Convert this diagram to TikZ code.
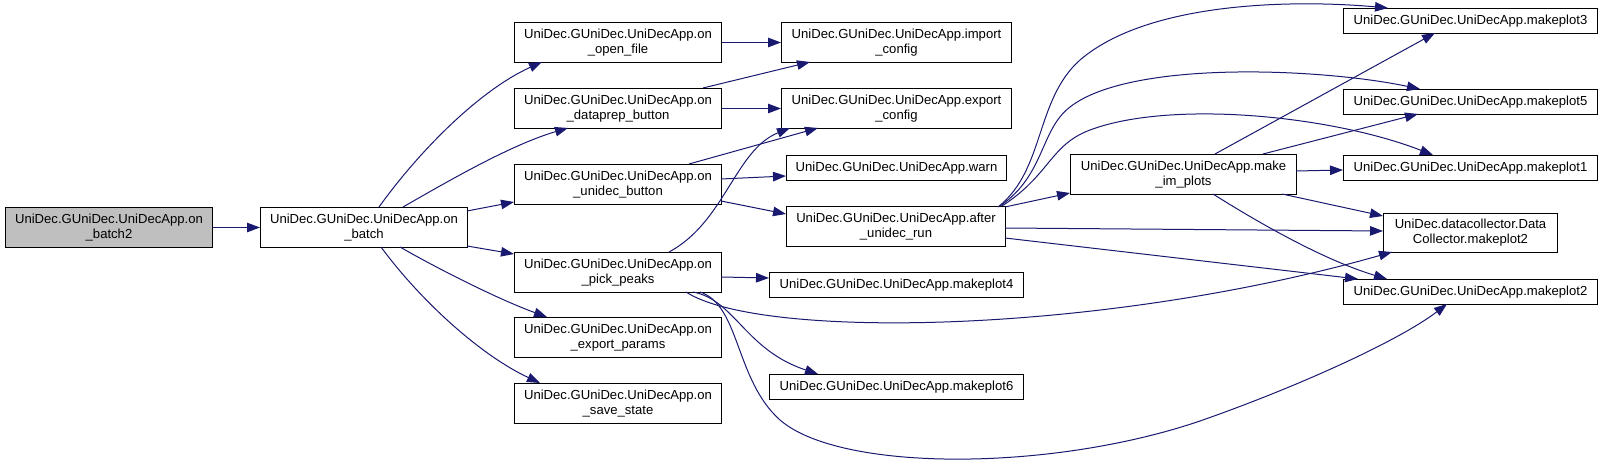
\documentclass[tikz,border=0pt]{standalone}
\usepackage{fontspec}
\setmainfont{Liberation Sans}
\usetikzlibrary{arrows.meta}
\definecolor{edgecol}{HTML}{191970}
\definecolor{hilite}{HTML}{BFBFBF}
\tikzset{
  fn/.style={draw=black, line width=1pt, fill=white, inner sep=0pt, anchor=north west,
    align=center, font=\fontsize{13.1}{15}\selectfont, text=black},
  edge/.style={draw=edgecol, line width=1pt, -{Triangle[length=13pt,width=9.5pt]}},
}
\begin{document}
\begin{tikzpicture}[x=1pt, y=-1pt]
\useasboundingbox (0,0) rectangle (1603,470);
% nodes
\node[fn, fill=hilite, minimum width=207pt, minimum height=40pt] (b2) at (5,207) {UniDec.GUniDec.UniDecApp.on\\\_batch2};
\node[fn, minimum width=207pt, minimum height=40pt] (b) at (260,207) {UniDec.GUniDec.UniDecApp.on\\\_batch};
\node[fn, minimum width=207pt, minimum height=40pt] (of) at (514,22) {UniDec.GUniDec.UniDecApp.on\\\_open\_file};
\node[fn, minimum width=207pt, minimum height=40pt] (dp) at (514,88) {UniDec.GUniDec.UniDecApp.on\\\_dataprep\_button};
\node[fn, minimum width=207pt, minimum height=40pt] (ub) at (514,164) {UniDec.GUniDec.UniDecApp.on\\\_unidec\_button};
\node[fn, minimum width=207pt, minimum height=40pt] (pp) at (514,252) {UniDec.GUniDec.UniDecApp.on\\\_pick\_peaks};
\node[fn, minimum width=207pt, minimum height=40pt] (ep) at (514,317) {UniDec.GUniDec.UniDecApp.on\\\_export\_params};
\node[fn, minimum width=207pt, minimum height=40pt] (ss) at (514,383) {UniDec.GUniDec.UniDecApp.on\\\_save\_state};
\node[fn, minimum width=230pt, minimum height=40pt] (ic) at (781,22) {UniDec.GUniDec.UniDecApp.import\\\_config};
\node[fn, minimum width=230pt, minimum height=40pt] (ec) at (781,88) {UniDec.GUniDec.UniDecApp.export\\\_config};
\node[fn, minimum width=220pt, minimum height=25pt] (wn) at (786,155) {UniDec.GUniDec.UniDecApp.warn};
\node[fn, minimum width=219pt, minimum height=40pt] (ar) at (786,206) {UniDec.GUniDec.UniDecApp.after\\\_unidec\_run};
\node[fn, minimum width=254pt, minimum height=25pt] (m4) at (769,272) {UniDec.GUniDec.UniDecApp.makeplot4};
\node[fn, minimum width=254pt, minimum height=25pt] (m6) at (769,374) {UniDec.GUniDec.UniDecApp.makeplot6};
\node[fn, minimum width=226pt, minimum height=40pt] (mi) at (1070,154) {UniDec.GUniDec.UniDecApp.make\\\_im\_plots};
\node[fn, minimum width=254pt, minimum height=25pt] (m3) at (1343,8) {UniDec.GUniDec.UniDecApp.makeplot3};
\node[fn, minimum width=254pt, minimum height=25pt] (m5) at (1343,89) {UniDec.GUniDec.UniDecApp.makeplot5};
\node[fn, minimum width=254pt, minimum height=25pt] (m1) at (1343,155) {UniDec.GUniDec.UniDecApp.makeplot1};
\node[fn, minimum width=174pt, minimum height=39pt] (dc) at (1383,213) {UniDec.datacollector.Data\\Collector.makeplot2};
\node[fn, minimum width=254pt, minimum height=25pt] (m2) at (1343,279) {UniDec.GUniDec.UniDecApp.makeplot2};
% edges
\draw[edge] (b2.east) -- (b.west);
\draw[edge] ([shift={(119,0)}]b.north west) .. controls (420,150) and (480,90) .. ([shift={(28,40)}]of.north west);
\draw[edge] ([shift={(143,0)}]b.north west) .. controls (445,183) and (510,145) .. ([shift={(54,40)}]dp.north west);
\draw[edge] ([shift={(207,4)}]b.north west) -- ([shift={(0,38)}]ub.north west);
\draw[edge] ([shift={(207,39)}]b.north west) -- ([shift={(0,2)}]pp.north west);
\draw[edge] ([shift={(140,40)}]b.north west) .. controls (440,270) and (500,300) .. ([shift={(33,0)}]ep.north west);
\draw[edge] ([shift={(121,40)}]b.north west) .. controls (420,300) and (480,355) .. ([shift={(26,0)}]ss.north west);
\draw[edge] (of.east) -- (ic.west);
\draw[edge] ([shift={(189,0)}]dp.north west) -- ([shift={(29,40)}]ic.north west);
\draw[edge] (dp.east) -- (ec.west);
\draw[edge] ([shift={(175,0)}]ub.north west) -- ([shift={(37,40)}]ec.north west);
\draw[edge] ([shift={(207,15)}]ub.north west) -- ([shift={(0,21)}]wn.north west);
\draw[edge] ([shift={(207,37)}]ub.north west) -- ([shift={(0,8)}]ar.north west);
\draw[edge] ([shift={(155,0)}]pp.north west) .. controls (725,222) and (735,150) .. ([shift={(9,40)}]ec.north west);
\draw[edge] ([shift={(207,25)}]pp.north west) -- ([shift={(0,6)}]m4.north west);
\draw[edge] ([shift={(172,40)}]pp.north west) .. controls (760,340) and (1100,335) .. ([shift={(9,39)}]dc.north west);
\draw[edge] ([shift={(179,40)}]pp.north west) .. controls (735,300) and (745,350) .. ([shift={(49,0)}]m6.north west);
\draw[edge] ([shift={(186,40)}]pp.north west) .. controls (740,305) and (735,380) .. (780,420)
  .. controls (840,472) and (1050,472) .. (1200,421)
  .. controls (1300,386) and (1400,340) .. ([shift={(104,25)}]m2.north west);
\draw[edge] ([shift={(212,1)}]ar.north west) .. controls (1045,170) and (1035,100) .. (1080,60)
  .. controls (1150,0) and (1300,0) .. ([shift={(45,0)}]m3.north west);
\draw[edge] ([shift={(214,0)}]ar.north west) .. controls (1045,175) and (1040,130) .. (1070,107)
  .. controls (1130,60) and (1320,68) .. ([shift={(77,0)}]m5.north west);
\draw[edge] ([shift={(216,0)}]ar.north west) .. controls (1050,175) and (1050,145) .. (1090,130)
  .. controls (1170,100) and (1330,115) .. ([shift={(90,0)}]m1.north west);
\draw[edge] ([shift={(219,1)}]ar.north west) -- ([shift={(0,39)}]mi.north west);
\draw[edge] ([shift={(219,22)}]ar.north west) -- ([shift={(0,18)}]dc.north west);
\draw[edge] ([shift={(219,32)}]ar.north west) -- ([shift={(15,0)}]m2.north west);
\draw[edge] ([shift={(145,0)}]mi.north west) -- ([shift={(92,25)}]m3.north west);
\draw[edge] ([shift={(193,0)}]mi.north west) -- ([shift={(75,25)}]m5.north west);
\draw[edge] ([shift={(226,17)}]mi.north west) -- ([shift={(0,15)}]m1.north west);
\draw[edge] ([shift={(212,40)}]mi.north west) -- ([shift={(0,3)}]dc.north west);
\draw[edge] ([shift={(143,40)}]mi.north west) .. controls (1270,230) and (1330,262) .. ([shift={(44,0)}]m2.north west);
\end{tikzpicture}
\end{document}
